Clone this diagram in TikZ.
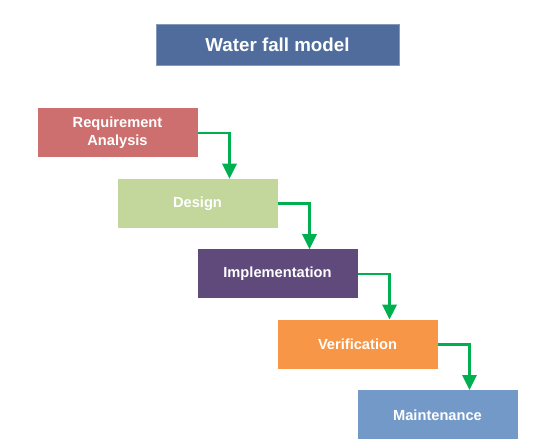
\documentclass[tikz,border=0pt]{standalone}
\usepackage{fontspec}
\setmainfont{Liberation Sans}
\usepackage{tikz}
\usetikzlibrary{positioning,arrows.meta}

\definecolor{titleblue}{HTML}{4F6C9C}
\definecolor{reqred}{HTML}{CD6F6E}
\definecolor{desgreen}{HTML}{C3D69B}
\definecolor{impviolet}{HTML}{604A7B}
\definecolor{verorange}{HTML}{F79646}
\definecolor{mntblue}{HTML}{7399C9}
\definecolor{flowgreen}{HTML}{00B050}

\begin{document}
\begin{tikzpicture}[>={Triangle[length=0.45cm,width=0.42cm]}, node distance=0.63cm]
    \tikzstyle{box}=[rectangle,align=center,text=white,font=\bfseries\fontsize{12.5}{15.3}\selectfont,minimum width=4.8cm,minimum height=1.47cm,inner sep=0pt]
    \tikzstyle{flow}=[->,draw=flowgreen,line width=2.4pt]
    \useasboundingbox (0,0) rectangle (16.77,-13.32);
    \node[box,fill=titleblue,draw=titleblue!70!white,minimum width=7.29cm,minimum height=1.23cm,font=\bfseries\fontsize{16}{19}\selectfont] (title) at (8.325,-1.335) {Water fall model};
    \node[box,fill=reqred] (req) at (3.525,-3.99) {Requirement\\Analysis};
    \node[box,fill=desgreen,below=of req,xshift=2.4cm] (design) {Design};
    \node[box,fill=impviolet,below=of design,xshift=2.4cm] (impl) {Implementation};
    \node[box,fill=verorange,below=of impl,xshift=2.4cm] (verif) {Verification};
    \node[box,fill=mntblue,below=of verif,xshift=2.4cm] (maint) {Maintenance};
    \draw[flow] (req.east) -| ([xshift=0.96cm]design.north);
    \draw[flow] (design.east) -| ([xshift=0.96cm]impl.north);
    \draw[flow] (impl.east) -| ([xshift=0.96cm]verif.north);
    \draw[flow] (verif.east) -| ([xshift=0.96cm]maint.north);
  \end{tikzpicture}
\end{document}
